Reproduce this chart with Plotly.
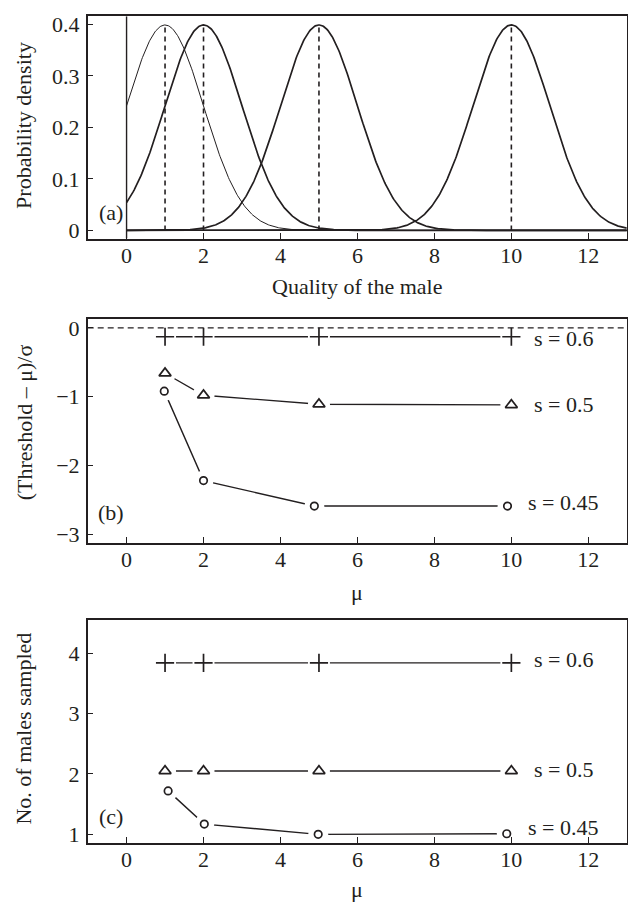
import numpy as np
import plotly.graph_objects as go

# ---------------- data ----------------
# Panel (a): normal densities of male quality
means = [1, 2, 5, 10]
sigma = 1.0
x_start, x_end = 0.0, 13.0

# Panel (b): (Threshold - mu)/sigma vs mu
mu_vals = [1, 2, 5, 10]
thr_s06 = [-0.13, -0.13, -0.13, -0.13]
thr_s05 = [-0.66, -0.98, -1.11, -1.12]
mu_s045_b = [0.98, 2.0, 4.88, 9.9]
thr_s045 = [-0.92, -2.22, -2.59, -2.59]

# Panel (c): number of males sampled vs mu
n_s06 = [3.84, 3.84, 3.84, 3.84]
n_s05 = [2.05, 2.05, 2.05, 2.05]
mu_s045_c = [1.08, 2.02, 4.98, 9.88]
n_s045 = [1.72, 1.17, 1.0, 1.01]

s_labels = ["s = 0.6", "s = 0.5", "s = 0.45"]
x_ticks = [0, 2, 4, 6, 8, 10, 12]

# ---------------- styling ----------------
INK = "#231f20"
GAP = "white"
FONT = "Liberation Serif"
FS = 22
XR = [-1.01, 13.0]

fig = go.Figure()

# ---- panel (a) ----
xs = np.linspace(x_start, x_end, 600)
for i, m in enumerate(means):
    pdf = np.exp(-0.5 * ((xs - m) / sigma) ** 2) / (sigma * np.sqrt(2 * np.pi))
    fig.add_trace(go.Scatter(x=xs, y=pdf, mode="lines",
                             line=dict(color=INK, width=1.0 if i == 0 else 1.7),
                             xaxis="x", yaxis="y", showlegend=False, hoverinfo="skip"))
    peak = 1.0 / (sigma * np.sqrt(2 * np.pi))
    fig.add_trace(go.Scatter(x=[m, m], y=[0, peak], mode="lines",
                             line=dict(color=INK, width=1.6, dash="5px,4px"),
                             xaxis="x", yaxis="y", showlegend=False, hoverinfo="skip"))
fig.add_trace(go.Scatter(x=[x_start, x_end], y=[0, 0], mode="lines",
                         line=dict(color=INK, width=1.4), xaxis="x", yaxis="y",
                         showlegend=False, hoverinfo="skip"))
fig.add_trace(go.Scatter(x=[0, 0], y=[-0.016, 0.416], mode="lines",
                         line=dict(color=INK, width=1.4), xaxis="x", yaxis="y",
                         showlegend=False, hoverinfo="skip"))


def add_series_panel(xa, ya, ya_top, series, zero_line=False):
    # connecting lines on the base subplot
    for xv, yv, sym, sz, gap in series:
        fig.add_trace(go.Scatter(x=xv, y=yv, mode="lines",
                                 line=dict(color=INK, width=1.4),
                                 xaxis=xa, yaxis=ya, showlegend=False, hoverinfo="skip"))
    # white gaps around markers (overlay subplot, drawn above the lines)
    for xv, yv, sym, sz, gap in series:
        fig.add_trace(go.Scatter(x=xv, y=yv, mode="markers",
                                 marker=dict(symbol="circle", size=gap, color=GAP,
                                             opacity=1, line=dict(width=0)),
                                 xaxis=xa, yaxis=ya_top, showlegend=False, hoverinfo="skip"))
    if zero_line:
        fig.add_trace(go.Scatter(x=XR, y=[0, 0], mode="lines",
                                 line=dict(color=INK, width=1.1, dash="6px,4px"),
                                 xaxis=xa, yaxis=ya_top, showlegend=False, hoverinfo="skip"))
    for xv, yv, sym, sz, gap in series:
        fig.add_trace(go.Scatter(x=xv, y=yv, mode="markers",
                                 marker=dict(symbol=sym, size=sz, color=INK,
                                             line=dict(color=INK, width=1.7)),
                                 xaxis=xa, yaxis=ya_top, showlegend=False, hoverinfo="skip"))


add_series_panel("x2", "y2", "y4", [
    (mu_vals, thr_s06, "cross-thin-open", 13, 22),
    (mu_vals, thr_s05, "triangle-up-open", 10.5, 22),
    (mu_s045_b, thr_s045, "circle-open", 7.5, 20),
], zero_line=True)

add_series_panel("x3", "y3", "y5", [
    (mu_vals, n_s06, "cross-thin-open", 13, 22),
    (mu_vals, n_s05, "triangle-up-open", 10.5, 22),
    (mu_s045_c, n_s045, "circle-open", 7.5, 20),
])

# ---------------- axes ----------------
XDOM = [87.7 / 628, 626.8 / 628]


def ydom(top_px, bot_px):
    return [1 - bot_px / 909, 1 - top_px / 909]


common_x = dict(range=XR, tickvals=x_ticks, ticks="inside", ticklen=6,
                tickwidth=1.3, tickcolor=INK, showline=True, linecolor=INK, linewidth=1.5,
                mirror=True, showgrid=False, zeroline=False, domain=XDOM,
                tickfont=dict(family=FONT, size=FS, color=INK), ticklabelstandoff=-4)
common_y = dict(ticks="inside", ticklen=6, tickwidth=1.3, tickcolor=INK, showline=True,
                linecolor=INK, linewidth=1.5, mirror=True, showgrid=False, zeroline=False,
                tickfont=dict(family=FONT, size=FS, color=INK), ticklabelstandoff=2)

dom_a = ydom(12.3, 236.7)
dom_b = ydom(318.3, 543.3)
dom_c = ydom(621.7, 846.0)
rng_b = [-3.12, 0.121]
rng_c = [0.864, 4.547]

layout = dict(
    width=628, height=909, margin=dict(l=0, r=0, t=0, b=0),
    paper_bgcolor="white", plot_bgcolor="white", showlegend=False,
    xaxis=dict(common_x, anchor="y"),
    yaxis=dict(common_y, anchor="x", domain=dom_a, range=[-0.016, 0.416],
               tickvals=[0, 0.1, 0.2, 0.3, 0.4], ticktext=["0", "0.1", "0.2", "0.3", "0.4"]),
    xaxis2=dict(common_x, anchor="y2"),
    yaxis2=dict(common_y, anchor="x2", domain=dom_b, range=rng_b,
                tickvals=[-3, -2, -1, 0]),
    xaxis3=dict(common_x, anchor="y3"),
    yaxis3=dict(common_y, anchor="x3", domain=dom_c, range=rng_c,
                tickvals=[1, 2, 3, 4]),
    yaxis4=dict(overlaying="y2", anchor="x2", range=rng_b, visible=False,
                showgrid=False, zeroline=False),
    yaxis5=dict(overlaying="y3", anchor="x3", range=rng_c, visible=False,
                showgrid=False, zeroline=False),
)
fig.update_layout(**layout)

tf = dict(family=FONT, size=FS, color=INK)
ann = [
    dict(text="Probability density", x=24 / 628, y=1 - 123 / 909, textangle=-90),
    dict(text="(Threshold – μ)/σ", x=24 / 628, y=1 - 422 / 909, textangle=-90),
    dict(text="No. of males sampled", x=24 / 628, y=1 - 731 / 909, textangle=-90),
    dict(text="Quality of the male", x=357.2 / 628, y=1 - 285 / 909),
    dict(text="μ", x=357.2 / 628, y=1 - 594 / 909),
    dict(text="μ", x=357.2 / 628, y=1 - 893 / 909),
    dict(text="(a)", x=110.5 / 628, y=1 - 210 / 909),
    dict(text="(b)", x=111.5 / 628, y=1 - 513 / 909),
    dict(text="(c)", x=111 / 628, y=1 - 820 / 909),
]
for a in ann:
    a.update(xref="paper", yref="paper", showarrow=False, font=tf,
             xanchor="center", yanchor="middle")

lab_b = [(10.56, -0.156), (10.55, -1.12), (10.41, -2.545)]
lab_c = [(10.56, 3.9), (10.55, 2.08), (10.41, 1.11)]
for (lx, ly), t in zip(lab_b, s_labels):
    ann.append(dict(text=t, x=lx, y=ly, xref="x2", yref="y2", showarrow=False,
                    font=tf, xanchor="left", yanchor="middle", borderpad=0))
for (lx, ly), t in zip(lab_c, s_labels):
    ann.append(dict(text=t, x=lx, y=ly, xref="x3", yref="y3", showarrow=False,
                    font=tf, xanchor="left", yanchor="middle", borderpad=0))

fig.update_layout(annotations=ann)
fig.write_html("out.html")
